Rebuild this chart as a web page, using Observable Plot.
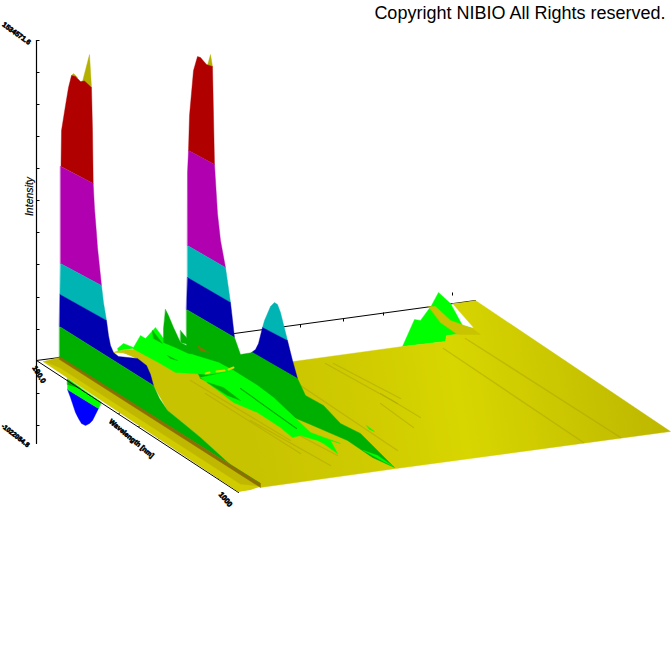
<!DOCTYPE html>
<html><head><meta charset="utf-8">
<script src="https://cdn.jsdelivr.net/npm/d3@7"></script>
<script src="https://cdn.jsdelivr.net/npm/@observablehq/plot@0.6"></script>
<style>html,body{margin:0;padding:0;background:#fff}svg{display:block}</style>
</head><body><div id="chart"></div>
<script>
const BR="#8a7000",G="#00b000",L="#00ff00",DB="#0000b0",B="#0000ff",C="#00b4b4",M="#b000b0",R="#b00000",T="#b4b000",RIDGE="#a89f00";
// surface outlines, in picture units
const backYellow=[[293,361],[402,346],[445,341],[446,335],[456,334],[473,327],[452,303],[463,302],[475,300],[670,431],[396,468],[260,487],[233,467],[200,437],[183,423],[167,410],[153,385],[146,365],[137,358],[118,350],[113,352]];
const clutBase=[[118,350],[133,349],[145,345],[170,350],[200,365],[233,370],[300,365],[300,420],[200,400],[153,385],[146,365],[137,358]];
const frontStrip=[[43,361],[59,357],[260,485],[250,489],[238,491]];
const frontLow=[[60,368],[240,484],[260,486],[250,489],[238,491],[43,361]];
const brownStrip=[[59,356],[260,483],[260,487],[59,359]];
// first tall peak, by colour band
const p1Tip=[[82,81],[89,54],[91,87]];
const p1Tip2=[[71,75],[73,73],[77,77]];
const p1Red=[[60.5,166],[61,130],[65,105],[68,87],[71,75],[75,76],[80,81],[84,80.5],[91,87],[92,130],[92.7,183]];
const p1Mag=[[60,166],[92.7,183],[94,208],[96,233],[97,247],[99,266],[101,285],[60,263]];
const p1Cyan=[[60,263],[101,285],[103,302],[106,320],[59.5,294]];
const p1Blue=[[59.5,294],[106,320],[108,335],[110,345],[113,352],[118,356],[137,358],[146,365],[150,374],[153,385],[59,326]];
const p1Green=[[59,326],[153,385],[159,398],[167,410],[183,423],[200,437],[233,467],[260,483],[59,357]];
// second tall peak
const p2Tip=[[207,65],[210,54],[212,66]];
const p2Red=[[188,150],[189,115],[193,70],[197,56],[200,57],[206,64],[212,66],[213,115],[214,164]];
const p2Mag=[[187,172],[188,150],[214,164],[217,213],[220,240],[225,267],[187,245]];
const p2Cyan=[[187,245],[225,267],[230,302],[187,277]];
const p2Blue=[[187,277],[230,302],[234,337],[186,309]];
const p2Green=[[186,309],[234,337],[240,354],[252,352],[297,378],[305,395],[323,405],[340,423],[360,433],[394,467],[372,457],[347,440],[310,424],[200,378],[186,350]];
// third smaller peak
const p3Cyan=[[262,327],[264,320],[267,313],[270,306],[274,302],[277,304],[280,312],[283,324],[287,340]];
const p3Blue=[[251,352],[255,349],[258,343],[262,327],[287,340],[290,352],[292,360],[297,378]];
// far bump
const farBump=[[402,346],[410,328],[414,319],[420,320],[431,305],[438,292],[450,303],[462,325],[473,328],[456,334],[446,335],[445,341]];
const farRidge=[[428,306],[435,306],[450,320],[472,328],[480,334],[457,334],[440,322]];
// bump below the floor
const negBlue=[[67,389],[70,397],[72,403],[75,412],[78,418],[81,423],[85,425],[89,423],[92,420],[95,414],[98,408]];
const negLight=[[67,378],[67,389],[98,408],[101,402]];
const negGreen=[[67,379],[80,388],[67,384]];
// central clutter
const clutLight=[[117,348],[123,343],[133,347],[140,335],[145,338],[155,327],[163,338],[175,345],[195,355],[218,362],[233,370],[222,372],[208,374],[192,373],[175,372],[158,362],[145,355],[132,348],[118,350]];
const clutSpike=[[165,309],[168,315],[173,327],[180,342],[192,348],[202,355],[188,353],[175,347],[163,342],[163,328]];
const clutSpike2=[[180,330],[190,342],[200,350],[208,356],[192,345],[180,342]];
const clutFold=[[152,330],[162,343],[153,338]];
const clutEye=[[167,355],[177,360],[170,358]];
const clutBrown=[[197,345],[208,352],[200,350]];
const midLight=[[200,377],[233,370],[257,385],[273,397],[290,413],[310,432],[340,443],[330,440],[337,453],[323,443],[317,440],[300,435],[292,437],[280,427],[257,412],[233,402],[220,392]];
const midEye=[[207,382],[223,387],[240,400],[227,395]];
const tipLight=[[363,450],[377,455],[393,466],[383,461]];
const tipSmall=[[366,425],[374,431],[369,429]];
const yellowBits=[[[205,373],[209,372]],[[216,371],[224,370]],[[228,369],[233,367]]];
// surface streaks and folds
const streaks=[[[325,363],[397,403]],[[333,363],[400,398]],[[297,383],[397,450]],[[380,403],[413,427]],[[380,393],[420,417]],[[280,425],[337,455]],[[190,380],[290,440]],[[205,393],[300,453]],[[250,420],[330,465]]];
const folds=[[[443,348],[583,442]],[[465,338],[620,437]]];
const midStreaks=[[[240,388],[296,428]]];
// axes
const zAxis=[[36,40],[36,443]];
const frontAxis=[[36,360],[238,492]];
const backAxis=[[36,360],[59,357]];
const backAxis2=[[234,333],[475,300]];
const zTicks=[40,72,104,136,168,200,232,264,297,329,393,425];
const frontTicks=[[118,413],[138,426],[158,438],[178,451],[198,464],[218,478]];
const backTicks=[[300,324],[343,318],[383,312],[452,292]];
const labels=[
 {t:"1534571.6",x:16,y:33,r:36,s:7,w:"bold",st:"normal",k:0.6},
 {t:"Intensity",x:29,y:196,r:-90,s:10.5,w:"normal",st:"italic",k:0.2},
 {t:"190.0",x:38.5,y:374,r:58,s:7.5,w:"bold",st:"normal",k:0.6},
 {t:"-1022084.8",x:15,y:435,r:38,s:6.6,w:"bold",st:"normal",k:0.6},
 {t:"Wavelength [nm]",x:131,y:438,r:40,s:7,w:"bold",st:"normal",k:0.6},
 {t:"1000",x:225,y:499,r:50,s:7.5,w:"bold",st:"normal",k:0.6}
];
const copyright="Copyright NIBIO All Rights reserved.";

const defs=()=>{
 const s=d3.create("svg:g");
 const g=s.append("defs").append("linearGradient").attr("id","floor").attr("gradientUnits","userSpaceOnUse")
  .attr("x1",250).attr("y1",440).attr("x2",670).attr("y2",370);
 [[0,"#c8c300"],[0.3,"#d0cc00"],[0.5,"#d8d600"],[0.7,"#cdc900"],[0.85,"#c4bf00"],[1,"#bcb600"]].forEach(([o,c])=>g.append("stop").attr("offset",o).attr("stop-color",c));
 return s.node();
};
const area=(pts,fill)=>Plot.line(pts,{x:d=>d[0],y:d=>d[1],fill,stroke:fill,strokeWidth:0.4,curve:"linear-closed"});
const seg=(pts,stroke,strokeWidth,strokeOpacity=1)=>Plot.line(pts,{x:d=>d[0],y:d=>d[1],stroke,strokeWidth,strokeOpacity});
const marks=[
 defs,
 seg(zAxis,"#000",1.2),
 Plot.link(zTicks,{x1:()=>36,x2:()=>39,y1:d=>d,y2:d=>d,stroke:"#000",strokeWidth:1}),
 seg(backAxis,"#000",1),
 seg(backAxis2,"#000",1),
 Plot.link(backTicks,{x1:d=>d[0],x2:d=>d[0],y1:d=>d[1],y2:d=>d[1]+3,stroke:"#000",strokeWidth:1}),
 area(farBump,L),
 area(p2Tip,T),area(p2Red,R),area(p2Mag,M),area(p2Cyan,C),area(p2Blue,DB),
 area(backYellow,"url(#floor)"),
 area(clutBase,"url(#floor)"),
 ...folds.map(s=>seg(s,RIDGE,1.4,0.45)),
 area(farRidge,"#c8c400"),
 ...streaks.map(s=>seg(s,RIDGE,1.2,0.45)),
 area(p3Cyan,C),area(p3Blue,DB),
 area(p2Green,G),
 area(clutLight,L),area(clutSpike,G),area(clutSpike2,G),area(clutFold,G),area(clutEye,G),area(clutBrown,BR),
 ...yellowBits.map(s=>seg(s,"#d8d800",2)),
 area(midLight,L),area(midEye,G),area(tipLight,L),area(tipSmall,L),
 ...midStreaks.map(s=>seg(s,G,1.2)),
 area(negBlue,B),area(negLight,L),area(negGreen,G),
 seg(frontAxis,"#000",1),
 Plot.link(frontTicks,{x1:d=>d[0],y1:d=>d[1],x2:d=>d[0]+2,y2:d=>d[1]-1,stroke:"#000",strokeWidth:1}),
 area(frontStrip,"#c0b800"),area(frontLow,"#d0cc00"),
 area(p1Tip,T),area(p1Tip2,T),area(p1Red,R),area(p1Mag,M),area(p1Cyan,C),area(p1Blue,DB),area(p1Green,G),
 area(brownStrip,BR),
 ...labels.map(l=>Plot.text([l],{x:"x",y:"y",text:"t",rotate:l.r,fontSize:l.s,fontWeight:l.w,fontStyle:l.st,fontFamily:"'Liberation Sans'",fill:"#000",stroke:"#000",strokeWidth:l.k})),
 Plot.text([copyright],{x:()=>665,y:()=>13,text:d=>d,textAnchor:"end",fontSize:18,fontFamily:"'Liberation Sans'",fill:"#000"})
];
const plot=Plot.plot({width:672,height:672,margin:0,
 x:{domain:[0,672],range:[0,672],axis:null},
 y:{domain:[0,672],range:[0,672],axis:null},
 marks});
document.getElementById("chart").append(plot);
</script></body></html>
